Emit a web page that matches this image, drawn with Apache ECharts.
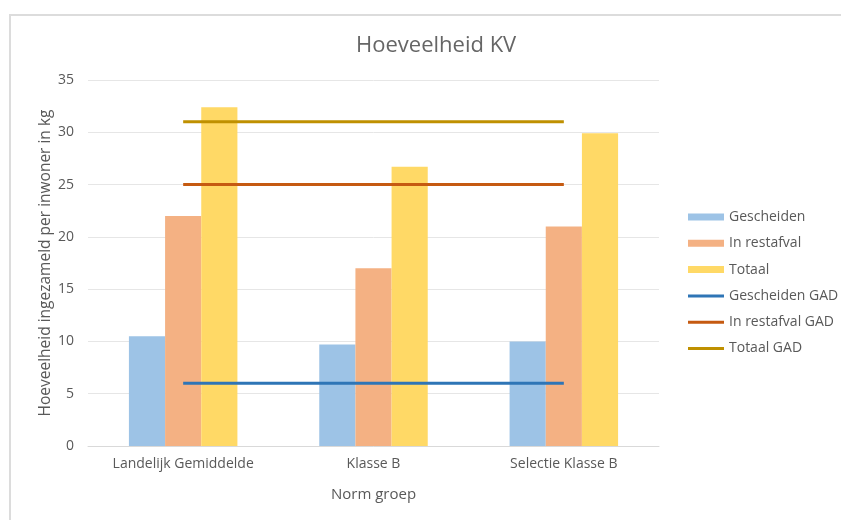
<!DOCTYPE html>
<html>
<head>
<meta charset="utf-8">
<script src="https://cdn.jsdelivr.net/npm/echarts@6/dist/echarts.min.js"></script>
<style>
html, body { margin: 0; padding: 0; background: #fff; }
#chart { width: 841px; height: 520px; }
.frame {
    position: absolute; left: 9px; top: 14px; right: 0; bottom: 0;
    border-left: 2px solid #dcdcdc; border-top: 2px solid #dcdcdc;
    pointer-events: none;
}
</style>
</head>
<body>
<div id="chart"></div>
<div class="frame"></div>
<script>
const categories = ['Landelijk Gemiddelde', 'Klasse B', 'Selectie Klasse B'];
const gescheiden = [10.5, 9.7, 10.0];
const inRestafval = [22, 17, 21];
const totaal = [32.4, 26.7, 29.9];
const gescheidenGAD = [6, 6, 6];
const inRestafvalGAD = [25, 25, 25];
const totaalGAD = [31, 31, 31];

const font = 'Open Sans';
const lineIcon = 'path://M0,0 M0,7 M0,2 L36,2 L36,5 L0,5 Z';
const chart = echarts.init(document.getElementById('chart'));

function lineSeries(name, data, color) {
    return {
        name: name,
        type: 'line',
        data: data,
        symbol: 'none',
        lineStyle: { color: color, width: 3 },
        itemStyle: { color: color },
        z: 3
    };
}

let option = {
    animation: false,
    textStyle: { fontFamily: font },
    title: {
        text: 'Hoeveelheid KV',
        left: 351,
        top: 30,
        textStyle: { fontFamily: font, fontSize: 22, fontWeight: 'normal', color: '#666666' }
    },
    legend: {
        orient: 'vertical',
        left: 683,
        top: 205,
        itemWidth: 36,
        itemHeight: 7,
        itemGap: 12.3,
        textStyle: { fontFamily: font, fontSize: 14, color: '#595959' },
        data: [
            { name: 'Gescheiden', icon: 'rect' },
            { name: 'In restafval', icon: 'rect' },
            { name: 'Totaal', icon: 'rect' },
            { name: 'Gescheiden GAD', icon: lineIcon },
            { name: 'In restafval GAD', icon: lineIcon },
            { name: 'Totaal GAD', icon: lineIcon }
        ]
    },
    grid: { left: 88, right: 182, top: 80, bottom: 74 },
    xAxis: {
        type: 'category',
        data: categories,
        name: 'Norm groep',
        nameLocation: 'middle',
        nameGap: 41,
        nameTextStyle: { fontFamily: font, fontSize: 15, color: '#595959' },
        axisTick: { show: false },
        axisLine: { lineStyle: { color: '#d9d9d9', width: 1 } },
        axisLabel: { fontFamily: font, fontSize: 14, color: '#595959', margin: 11 }
    },
    yAxis: {
        type: 'value',
        min: 0,
        max: 35,
        interval: 5,
        name: 'Hoeveelheid ingezameld per inwoner in kg',
        nameLocation: 'middle',
        nameGap: 34,
        nameMoveOverlap: false,
        nameTextStyle: { fontFamily: font, fontSize: 15.5, color: '#595959' },
        axisLine: { show: false },
        axisTick: { show: false },
        axisLabel: { fontFamily: font, fontSize: 14, color: '#595959', margin: 14 },
        splitLine: { lineStyle: { color: '#e6e6e6', width: 1 } }
    },
    series: [
        { name: 'Gescheiden', type: 'bar', data: gescheiden, barGap: '0%', barCategoryGap: '43%', itemStyle: { color: '#9DC3E6' } },
        { name: 'In restafval', type: 'bar', data: inRestafval, barGap: '0%', barCategoryGap: '43%', itemStyle: { color: '#F4B183' } },
        { name: 'Totaal', type: 'bar', data: totaal, barGap: '0%', barCategoryGap: '43%', itemStyle: { color: '#FFD966' } },
        lineSeries('Gescheiden GAD', gescheidenGAD, '#2E75B6'),
        lineSeries('In restafval GAD', inRestafvalGAD, '#C55A11'),
        lineSeries('Totaal GAD', totaalGAD, '#BF9000')
    ]
};
option && chart.setOption(option);
</script>
</body>
</html>
